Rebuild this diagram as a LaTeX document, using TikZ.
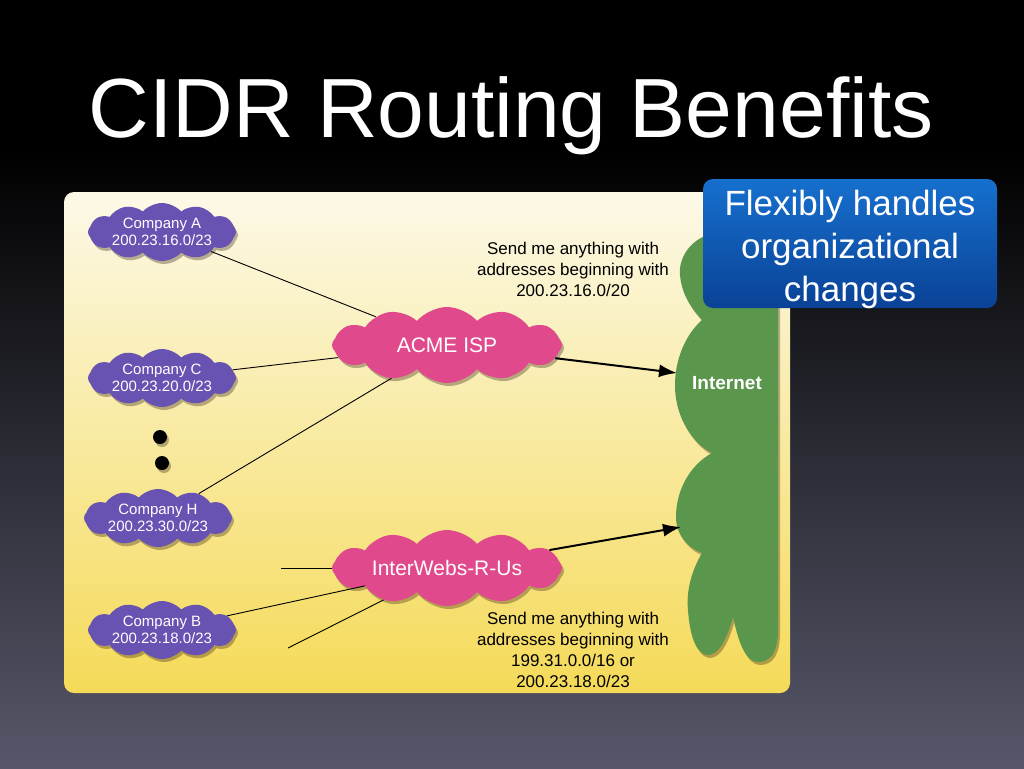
\documentclass[tikz,border=0pt]{standalone}
\usepackage{fontspec}
\setmainfont{Liberation Sans}
\usetikzlibrary{shapes.symbols,shadows,arrows.meta}
\definecolor{bgbot}{RGB}{86,88,106}
\definecolor{bgmid}{RGB}{28,30,52}
\definecolor{paneltop}{RGB}{252,249,232}
\definecolor{panelmid}{RGB}{248,233,150}
\definecolor{panelbot}{RGB}{245,218,88}
\definecolor{compcol}{RGB}{104,82,178}
\definecolor{ispcol}{RGB}{224,74,140}
\definecolor{inetcol}{RGB}{90,150,76}
\definecolor{boxtop}{RGB}{22,112,206}
\definecolor{boxbot}{RGB}{10,66,150}
\tikzset{
  softshadow/.style={drop shadow={opacity=0.35,shadow xshift=2pt,shadow yshift=-3pt,fill=black!70!brown}},
  company/.style={cloud, cloud puffs=12, cloud puff arc=95, cloud ignores aspect,
    minimum width=148pt, minimum height=58pt, inner sep=0pt,
    fill=compcol, text=white, align=center,
    font=\fontsize{15}{17}\selectfont, softshadow},
  isp/.style={cloud, cloud puffs=12, cloud puff arc=100, cloud ignores aspect,
    minimum width=230pt, minimum height=76pt, inner sep=0pt,
    fill=ispcol, text=white, font=\fontsize{21}{24}\selectfont, softshadow},
  link/.style={draw=black, line width=0.9pt},
  uplink/.style={draw=black, line width=2pt, -{Latex[length=18pt,width=13pt]}},
  note/.style={align=center, text=black, font=\fontsize{17}{21}\selectfont},
  dot/.style={circle, fill=black, minimum size=14pt, inner sep=0pt, softshadow},
}
\begin{document}
\begin{tikzpicture}[x=1pt,y=-1pt]
\useasboundingbox (0,0) rectangle (1024,768);
% background
\fill[black] (0,0) rectangle (1024,768);
\shade[top color=black, middle color=bgmid, bottom color=bgbot] (0,150) rectangle (1024,768);
% title
\node[anchor=base, text=white, font=\fontsize{84}{90}\selectfont, inner sep=0pt] (title) at (511,137) {CIDR Routing Benefits};
% panel
\shade[top color=paneltop, middle color=panelmid, bottom color=panelbot, rounded corners=10pt] (64,192) rectangle (790,693);
% internet blob
\fill[inetcol, softshadow] (778,232) -- (725,232)
  .. controls (695,232) and (678,255) .. (680,275)
  .. controls (682,298) and (695,312) .. (702,320)
  .. controls (685,335) and (675,360) .. (675,385)
  .. controls (675,420) and (695,445) .. (712,453)
  .. controls (690,465) and (676,490) .. (676,517)
  .. controls (676,535) and (688,548) .. (702,553)
  .. controls (692,570) and (686,590) .. (688,610)
  .. controls (690,640) and (698,655) .. (708,655)
  .. controls (720,655) and (728,635) .. (733,617)
  .. controls (738,640) and (745,662) .. (758,662)
  .. controls (772,662) and (778,650) .. (778,630)
  -- cycle;
\node[text=white, font=\bfseries\fontsize{19}{22}\selectfont] (inet) at (727,383) {Internet};
\coordinate (inetA) at (677,373);
\coordinate (inetB) at (681,527);
% companies
\node[company] (compA) at (162,232) {Company A\\200.23.16.0/23};
\node[company] (compC) at (162,378) {Company C\\200.23.20.0/23};
\node[company] (compH) at (158,518) {Company H\\200.23.30.0/23};
\node[company] (compB) at (162,630) {Company B\\200.23.18.0/23};
\node[dot] (dot1) at (160,437) {};
\node[dot] (dot2) at (162,463) {};
% ISPs
\node[isp] (acme) at (447,345) {ACME ISP};
\node[isp] (iweb) at (447,568) {InterWebs-R-Us};
\coordinate (free1) at (281,568);
\coordinate (free2) at (288,648);
% links
\draw[link] (compA) -- (acme);
\draw[link] (compC) -- (acme);
\draw[link] (compH) -- (acme);
\draw[link] (free1) -- (iweb);
\draw[link] (compB) -- (iweb);
\draw[link] (free2) -- (iweb);
\draw[uplink] (acme) -- (inetA);
\draw[uplink] (iweb) -- (inetB);
% notes
\node[note] (noteA) at (573,269) {Send me anything with\\addresses beginning with\\200.23.16.0/20};
\node[note] (noteB) at (573,650) {Send me anything with\\addresses beginning with\\199.31.0.0/16 or\\200.23.18.0/23};
% callout
\node[rounded corners=10pt, top color=boxtop, bottom color=boxbot, minimum width=294pt, minimum height=129pt,
  text=white, font=\fontsize{35}{43}\selectfont, inner sep=0pt] (callout) at (850,243.5)
  {\raisebox{-6pt}[\height][\depth]{\begin{tabular}{@{}c@{}}Flexibly handles\\organizational\\changes\end{tabular}}};
\end{tikzpicture}
\end{document}
